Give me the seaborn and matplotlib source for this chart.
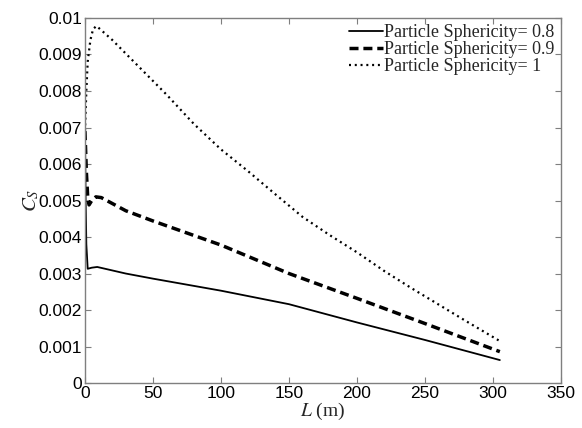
import numpy as np
import pandas as pd
import matplotlib
matplotlib.use("Agg")
import matplotlib.pyplot as plt
import seaborn as sns

# Settling concentration along the pipe length for three particle sphericities
L_08 = [0, 0.5, 1, 2, 5, 9, 30, 50, 100, 150, 200, 250, 305]
cs_08 = [0.0069, 0.0050, 0.0038, 0.00313, 0.00316, 0.00318, 0.00300, 0.00286,
         0.00253, 0.00216, 0.00166, 0.00118, 0.00063]

L_09 = [0, 1, 2, 3, 5, 8, 12, 30, 50, 100, 150, 200, 250, 305]
cs_09 = [0.0069, 0.0058, 0.0051, 0.00488, 0.00500, 0.00510, 0.00508, 0.00472,
         0.00444, 0.00378, 0.00300, 0.00232, 0.00163, 0.00086]

L_10 = [0, 1, 2, 4, 6, 8.5, 20, 40, 60, 80, 100, 120, 140, 160, 180, 200,
        220, 240, 260, 280, 305]
cs_10 = [0.0069, 0.0080, 0.0088, 0.0094, 0.0097, 0.00978, 0.0094, 0.00865,
         0.0079, 0.0071, 0.0064, 0.0058, 0.00517, 0.00455, 0.00405, 0.00358,
         0.00307, 0.00260, 0.00215, 0.00170, 0.00115]

labels = ["Particle Sphericity= 0.8", "Particle Sphericity= 0.9",
          "Particle Sphericity= 1"]

x_ticks = [0, 50, 100, 150, 200, 250, 300, 350]
y_ticks = [0, 0.001, 0.002, 0.003, 0.004, 0.005, 0.006, 0.007, 0.008, 0.009, 0.01]
y_ticklabels = ["0", "0.001", "0.002", "0.003", "0.004", "0.005", "0.006",
                "0.007", "0.008", "0.009", "0.01"]

df = pd.concat([
    pd.DataFrame({"L": L_08, "Cs": cs_08, "series": labels[0]}),
    pd.DataFrame({"L": L_09, "Cs": cs_09, "series": labels[1]}),
    pd.DataFrame({"L": L_10, "Cs": cs_10, "series": labels[2]}),
], ignore_index=True)

sns.set_style("ticks")
plt.rcParams["font.family"] = ["Liberation Sans", "DejaVu Sans"]
plt.rcParams["mathtext.fontset"] = "stix"

fig = plt.figure(figsize=(5.82, 4.28), dpi=100)
ax = fig.add_axes([0.146, 0.105, 0.818, 0.853])

styles = {
    labels[0]: dict(lw=1.3, ls="-"),
    labels[1]: dict(lw=2.5, dashes=(2.6, 1.4)),
    labels[2]: dict(lw=1.6, dashes=(0.9, 1.7)),
}
for name in labels:
    sub = df[df["series"] == name]
    st = styles[name]
    line_kw = {k: v for k, v in st.items() if k != "dashes"}
    sns.lineplot(data=sub, x="L", y="Cs", ax=ax, color="black", label=name,
                 sort=False, estimator=None, **line_kw)
    if "dashes" in st:
        ax.get_lines()[-1].set_dashes(st["dashes"])

ax.set_xlim(0, 350)
ax.set_ylim(0, 0.01)
ax.set_xticks(x_ticks)
ax.set_xticklabels([str(t) for t in x_ticks])
ax.set_yticks(y_ticks)
ax.set_yticklabels(y_ticklabels)

ax.tick_params(direction="in", length=4, width=0.8, color="#7f7f7f",
               labelsize=12.5, labelcolor="black", top=True, right=True, pad=2)
for sp in ax.spines.values():
    sp.set_visible(True)
    sp.set_color("#7f7f7f")
    sp.set_linewidth(1.0)

ax.set_xlabel(r"$L$ (m)", fontsize=14, family="Liberation Serif", labelpad=0)
ax.set_ylabel(r"$C_S$", fontsize=15, family="Liberation Serif", labelpad=-2)

leg = ax.legend(loc="upper right", frameon=False,
                prop={"family": "Liberation Serif", "size": 13},
                handlelength=1.9, handletextpad=0.05, labelspacing=0.0,
                borderaxespad=0.15, borderpad=0.2)

fig.savefig("out.png", dpi=100, facecolor="white")
